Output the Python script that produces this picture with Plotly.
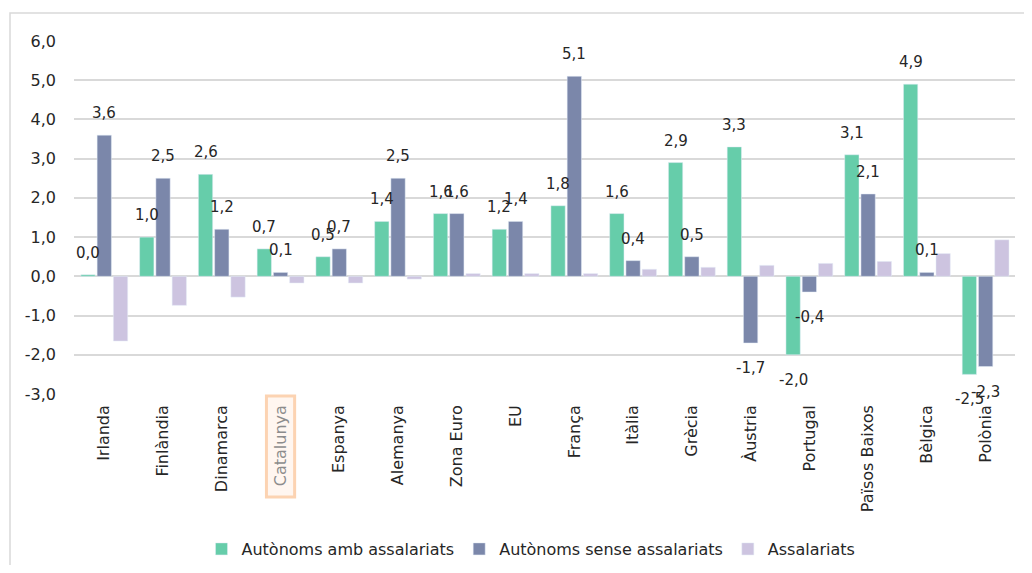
import plotly.graph_objects as go

categories = ["Irlanda", "Finlàndia", "Dinamarca", "Catalunya", "Espanya", "Alemanya",
              "Zona Euro", "EU", "França", "Itàlia", "Grècia", "Àustria", "Portugal",
              "Països Baixos", "Bèlgica", "Polònia"]
amb_assalariats = [0.04, 1.0, 2.6, 0.7, 0.5, 1.4, 1.6, 1.2, 1.8, 1.6, 2.9, 3.3, -2.0, 3.1, 4.9, -2.5]
sense_assalariats = [3.6, 2.5, 1.2, 0.1, 0.7, 2.5, 1.6, 1.4, 5.1, 0.4, 0.5, -1.7, -0.4, 2.1, 0.1, -2.3]
assalariats = [-1.65, -0.74, -0.53, -0.17, -0.17, -0.07, 0.07, 0.07, 0.07, 0.18, 0.23, 0.28, 0.33, 0.38, 0.58, 0.93]
y_ticks = [-3, -2, -1, 0, 1, 2, 3, 4, 5, 6]
highlight = "Catalunya"

FONT = "DejaVu Sans"
TXT = "#262626"

# page body has an 8px margin: work in figure pixels = page pixels - 8
OFF = 8
W, H = 1032 - 2 * OFF, 573 - 2 * OFF
PL, PR, PT, PB = 74 - OFF, 1015 - OFF, 41 - OFF, 394 - OFF
BARGAP = 0.17


def fmt(v):
    return f"{v:.1f}".replace(".", ",")


def px_to_paper_x(px):
    return (px - OFF - PL) / (PR - PL)


def px_to_paper_y(py):
    return (PB - (py - OFF)) / (PB - PT)


ticktext = [f'<span style="color:#8c8c8c">{c}</span>' if c == highlight else c for c in categories]

fig = go.Figure()
fig.add_bar(x=categories, y=amb_assalariats, name="Autònoms amb assalariats",
            marker_color="#66cdaa", cliponaxis=False)
fig.add_bar(x=categories, y=sense_assalariats, name="Autònoms sense assalariats",
            marker_color="#7b87aa", cliponaxis=False)
fig.add_bar(x=categories, y=assalariats, name="Assalariats",
            marker_color="#cdc4e0", cliponaxis=False)

# data labels (Excel style: outside end with a gap)
slot = (PR - PL) / len(categories) * (1 - BARGAP) / 3
annotations = []
for k, series in enumerate([amb_assalariats, sense_assalariats]):
    shift = (k - 1) * slot
    for c, v in zip(categories, series):
        pos = v >= 0
        annotations.append(dict(
            x=c, y=v, xref="x", yref="y", text=fmt(v), showarrow=False,
            xshift=shift, yshift=11 if pos else -14,
            yanchor="bottom" if pos else "top", xanchor="center",
            font=dict(family=FONT, size=15, color=TXT)))

hi = categories.index(highlight)
shapes = [
    dict(type="rect", xref="paper", yref="paper",
         x0=px_to_paper_x(10), x1=px_to_paper_x(1045),
         y0=px_to_paper_y(590), y1=px_to_paper_y(13),
         line=dict(color="#d9d9d9", width=1.5), fillcolor="rgba(0,0,0,0)", layer="below"),
    dict(type="rect", xref="x", yref="paper",
         x0=hi - 0.24, x1=hi + 0.24,
         y0=px_to_paper_y(497), y1=px_to_paper_y(396),
         line=dict(color="#fcd3b2", width=3), fillcolor="#fff6f0", layer="below"),
]

fig.update_layout(
    width=W, height=H,
    margin=dict(l=PL, r=W - PR, t=PT, b=H - PB, autoexpand=False),
    paper_bgcolor="white", plot_bgcolor="white",
    separators=",.",
    barmode="group", bargap=BARGAP, bargroupgap=0.12,
    font=dict(family=FONT, size=16, color=TXT),
    showlegend=True,
    legend=dict(orientation="h", x=px_to_paper_x(531), xanchor="center",
                y=px_to_paper_y(549), yanchor="middle",
                font=dict(family=FONT, size=16, color=TXT), itemwidth=30,
                traceorder="normal"),
    shapes=shapes,
    annotations=annotations,
    xaxis=dict(tickmode="array", tickvals=categories, ticktext=ticktext,
               tickangle=-90, showgrid=False, showline=False, ticks="",
               tickfont=dict(family=FONT, size=16, color=TXT), automargin=False,
               ticklabelstandoff=7),
    yaxis=dict(range=[-3, 6], tickmode="array", tickvals=y_ticks,
               ticktext=[fmt(v) for v in y_ticks],
               showgrid=True, gridcolor="#d9d9d9", gridwidth=1.5,
               zeroline=True, zerolinecolor="#d9d9d9", zerolinewidth=1.5,
               showline=False, ticks="", automargin=False,
               tickfont=dict(family=FONT, size=16, color=TXT), ticklabelstandoff=17),
)

fig.write_html("out.html")
